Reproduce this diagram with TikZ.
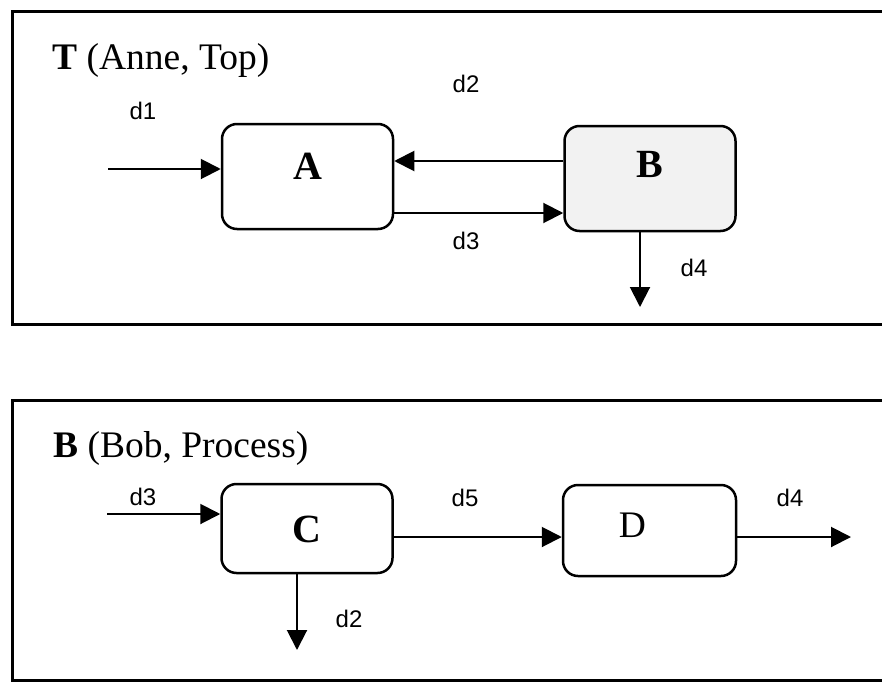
\documentclass[tikz,border=0pt]{standalone}
\usepackage{fontspec}
\setmainfont{Liberation Serif}
\newfontfamily\flowfont{Liberation Sans}
\usetikzlibrary{arrows.meta,positioning}

\begin{document}
\begin{tikzpicture}[x=1pt, y=-1pt,
        box/.style = {draw, rounded corners=15pt,
            line width=2.5pt,
            minimum width=171pt,
            minimum height=105pt
        },
        boxtext/.style = {font=\fontsize{40}{44}\selectfont},
        frame/.style = {line width=3pt},
        title/.style = {anchor=base west, inner sep=0pt,
            font=\fontsize{37.5}{42}\selectfont},
        flow/.style = {line width=2pt,
            -{Triangle[length=20pt,width=20pt]}
        },
        flowlabel/.style = {font=\flowfont\fontsize{24}{26}\selectfont}]

    \useasboundingbox (0,0) rectangle (882,682);

    % Top process T
    \draw[frame] (882,12) -- (12,12) -- (12,324) -- (882,324);
    \node[title] (Ttitle) at (52,70) {\textbf{T} (Anne, Top)};

    % Box A
    \node[box] (A) at (307.5,176.5) {};
    \node[boxtext] (Atext) at ([yshift=10pt]A.center) {\textbf{A}};

    % Box B
    \node[box, fill=black!5] (B) at (650,178.5) {};
    \node[boxtext] (Btext) at ([yshift=14pt]B.center) {\textbf{B}};

    % Flows of T
    \coordinate (d1in) at (108,169);
    \coordinate (d4out) at (640,307);
    \draw[flow] (d1in) -- (d1in -| A.west);
    \draw[flow] (B.west |- 0,161) -- (A.east |- 0,161);
    \draw[flow] (A.east |- 0,213) -- (B.west |- 0,213);
    \draw[flow] (d4out |- B.south) -- (d4out);

    \node[flowlabel] (d1) at (143,111) {d1};
    \node[flowlabel] (d2) at (466,84) {d2};
    \node[flowlabel] (d3) at (466,241) {d3};
    \node[flowlabel] (d4) at (694,268) {d4};

    % Process B refined
    \draw[frame] (882,400) -- (12,400) -- (12,680) -- (882,680);
    \node[title] (Btitle) at (53,457) {\textbf{B} (Bob, Process)};

    % Box C
    \node[box, minimum height=89pt] (C) at (307,528.5) {};
    \node[boxtext] (Ctext) at ([yshift=-1pt]C.center) {\textbf{C}};

    % Box D
    \node[box, minimum height=91pt, minimum width=173pt] (D) at (649.5,530.5) {};
    \node[boxtext, font=\fontsize{37.5}{42}\selectfont] (Dtext) at ([xshift=-17pt,yshift=5pt]D.center) {D};

    % Flows of B
    \coordinate (d3in) at (107,514);
    \coordinate (d2out) at (297,650);
    \coordinate (d4end) at (851,537);
    \draw[flow] (d3in) -- (d3in -| C.west);
    \draw[flow] (d2out |- C.south) -- (d2out);
    \draw[flow] (C.east |- 0,537) -- (D.west |- 0,537);
    \draw[flow] (D.east |- d4end) -- (d4end);

    \node[flowlabel] (d3b) at (143,497) {d3};
    \node[flowlabel] (d2b) at (349,619) {d2};
    \node[flowlabel] (d5) at (465,498) {d5};
    \node[flowlabel] (d4b) at (790,498) {d4};

\end{tikzpicture}
\end{document}
